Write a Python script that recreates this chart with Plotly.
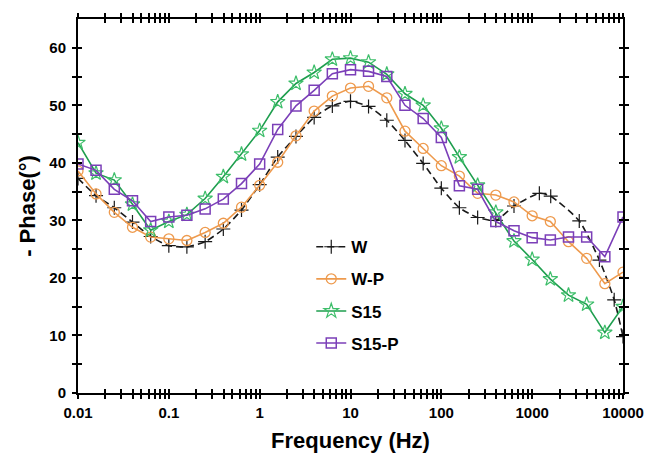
import plotly.graph_objects as go

# ---- data ----
freq = [0.01, 0.0158, 0.0251, 0.0398, 0.0631, 0.1, 0.158, 0.251, 0.398, 0.631,
        1, 1.58, 2.51, 3.98, 6.31, 10, 15.8, 25.1, 39.8, 63.1,
        100, 158, 251, 398, 631, 1000, 1585, 2512, 3981, 6310, 10000]

freq_w = freq[:25] + [1200, 1600, 3300, 5500, 8000, 10000]
phase_w = [37.3, 34.3, 32.2, 29.7, 27.2, 25.6, 25.4, 26.3, 28.5, 31.8,
           36.2, 41.0, 44.6, 47.9, 49.9, 50.7, 49.8, 47.4, 43.9, 39.9,
           35.6, 32.2, 30.5, 30.0, 32.5, 34.7, 34.2, 29.9, 23.1, 16.2, 9.8]

phase_wp = [38.6, 34.6, 31.4, 28.8, 27.1, 26.8, 26.5, 27.9, 29.5, 32.3,
            36.1, 40.1, 44.7, 49.0, 51.6, 53.0, 53.3, 51.3, 45.5, 42.5,
            39.5, 37.7, 34.7, 34.4, 33.2, 30.8, 29.8, 26.3, 23.4, 19.0, 21.0]

phase_s15 = [43.5, 38.2, 37.0, 32.8, 28.3, 29.8, 31.0, 33.8, 37.6, 41.5,
             45.6, 50.6, 53.8, 55.7, 58.0, 58.2, 57.5, 55.4, 52.0, 50.0,
             46.0, 41.0, 36.1, 31.4, 26.4, 23.2, 19.8, 17.0, 15.4, 10.5, 15.0]

phase_s15p = [39.8, 38.7, 35.4, 33.4, 29.8, 30.6, 30.9, 32.0, 33.7, 36.4,
              39.8, 45.8, 49.9, 52.6, 55.5, 56.2, 55.9, 55.0, 50.0, 47.7,
              44.4, 36.0, 35.4, 29.8, 28.2, 27.0, 26.6, 27.1, 27.1, 23.7, 30.6]

x_major = [0.01, 0.1, 1, 10, 100, 1000, 10000]
x_major_labels = ["0.01", "0.1", "1", "10", "100", "1000", "10000"]
y_major = [0, 10, 20, 30, 40, 50, 60]
y_minor = [5, 15, 25, 35, 45, 55]

# tick arrays
x_ticks, x_text = [], []
for i, d in enumerate(x_major):
    x_ticks.append(d)
    x_text.append(x_major_labels[i])
    if d < 10000:
        for m in range(2, 10):
            x_ticks.append(d * m)
            x_text.append("")
y_ticks = sorted(y_major + y_minor)
y_text = [str(v) if v in y_major else "" for v in y_ticks]

FONT = "Liberation Sans, Arial, Helvetica, sans-serif"

fig = go.Figure()

fig.add_trace(go.Scatter(
    x=freq_w, y=phase_w, name="W", mode="lines+markers",
    line=dict(color="#1a1a1a", width=1.6, dash="7px,4px", shape="spline", smoothing=0.6),
    marker=dict(symbol="cross-thin-open", size=10, line=dict(color="#1a1a1a", width=1.2)),
    legendgroup="a"))
fig.add_trace(go.Scatter(
    x=freq, y=phase_wp, name="W-P", mode="lines+markers",
    line=dict(color="#EE9A4D", width=1.6),
    marker=dict(symbol="circle-open", size=10, color="#EE9A4D", line=dict(color="#EE9A4D", width=1.3)),
    legendgroup="b"))
fig.add_trace(go.Scatter(
    x=freq, y=phase_s15, name="S15", mode="lines+markers",
    line=dict(color="#1E9E4E", width=1.6),
    marker=dict(symbol="star-open", size=11, color="#3DBE6A", line=dict(color="#3DBE6A", width=1.2)),
    legendgroup="c"))
fig.add_trace(go.Scatter(
    x=freq, y=phase_s15p, name="S15-P", mode="lines+markers",
    line=dict(color="#7B3FB8", width=1.6),
    marker=dict(symbol="square-open", size=10, color="#7B3FB8", line=dict(color="#7B3FB8", width=1.5)),
    legendgroup="d"))

# empty helper trace so the inside-tick overlay axes get their own subplot
fig.add_trace(go.Scatter(x=[], y=[], xaxis="x2", yaxis="y2", showlegend=False, hoverinfo="skip"))

tickfont = dict(family=FONT, size=15, color="black", weight="bold")

fig.update_layout(
    width=656, height=453,
    margin=dict(l=78, r=33, t=19, b=60, autoexpand=False),
    paper_bgcolor="white", plot_bgcolor="white",
    font=dict(family=FONT, color="black"),
    xaxis=dict(type="log", range=[-2, 4], showline=True, linewidth=2, linecolor="black",
               mirror="ticks", ticks="outside", ticklen=4, tickwidth=1.5, tickcolor="black",
               tickvals=x_ticks, ticktext=x_text, tickfont=tickfont, showgrid=False, zeroline=False,
               ticklabelstandoff=1, automargin=False,
               title=dict(text="Frequency (Hz)", font=dict(family=FONT, size=22, weight="bold"), standoff=20)),
    yaxis=dict(range=[0, 65], showline=True, linewidth=2, linecolor="black",
               mirror="ticks", ticks="outside", ticklen=4, tickwidth=1.5, tickcolor="black",
               tickvals=y_ticks, ticktext=y_text, tickfont=tickfont, showgrid=False, zeroline=False,
               ticklabelstandoff=3, automargin=False,
               title=dict(text="- Phase(°)", font=dict(family=FONT, size=22, weight="bold"), standoff=8)),
    xaxis2=dict(type="log", range=[-2, 4], overlaying="x", anchor="y2", side="bottom",
                showline=False, mirror="ticks", ticks="inside", ticklen=4, tickwidth=1.5, tickcolor="black",
                tickvals=x_ticks, showticklabels=False, showgrid=False, zeroline=False, automargin=False),
    yaxis2=dict(range=[0, 65], overlaying="y", anchor="x2", side="left",
                showline=False, mirror="ticks", ticks="inside", ticklen=4, tickwidth=1.5, tickcolor="black",
                tickvals=y_ticks, showticklabels=False, showgrid=False, zeroline=False, automargin=False),
    legend=dict(x=0.428, y=0.438, xanchor="left", yanchor="top", bgcolor="rgba(0,0,0,0)",
                font=dict(family=FONT, size=17, color="black", weight="bold"),
                traceorder="grouped", tracegroupgap=7, itemwidth=30),
    showlegend=True,
)

fig.write_html("out.html", config={"displayModeBar": False},
               post_script="document.body.style.margin='0';document.body.style.overflow='hidden';")
